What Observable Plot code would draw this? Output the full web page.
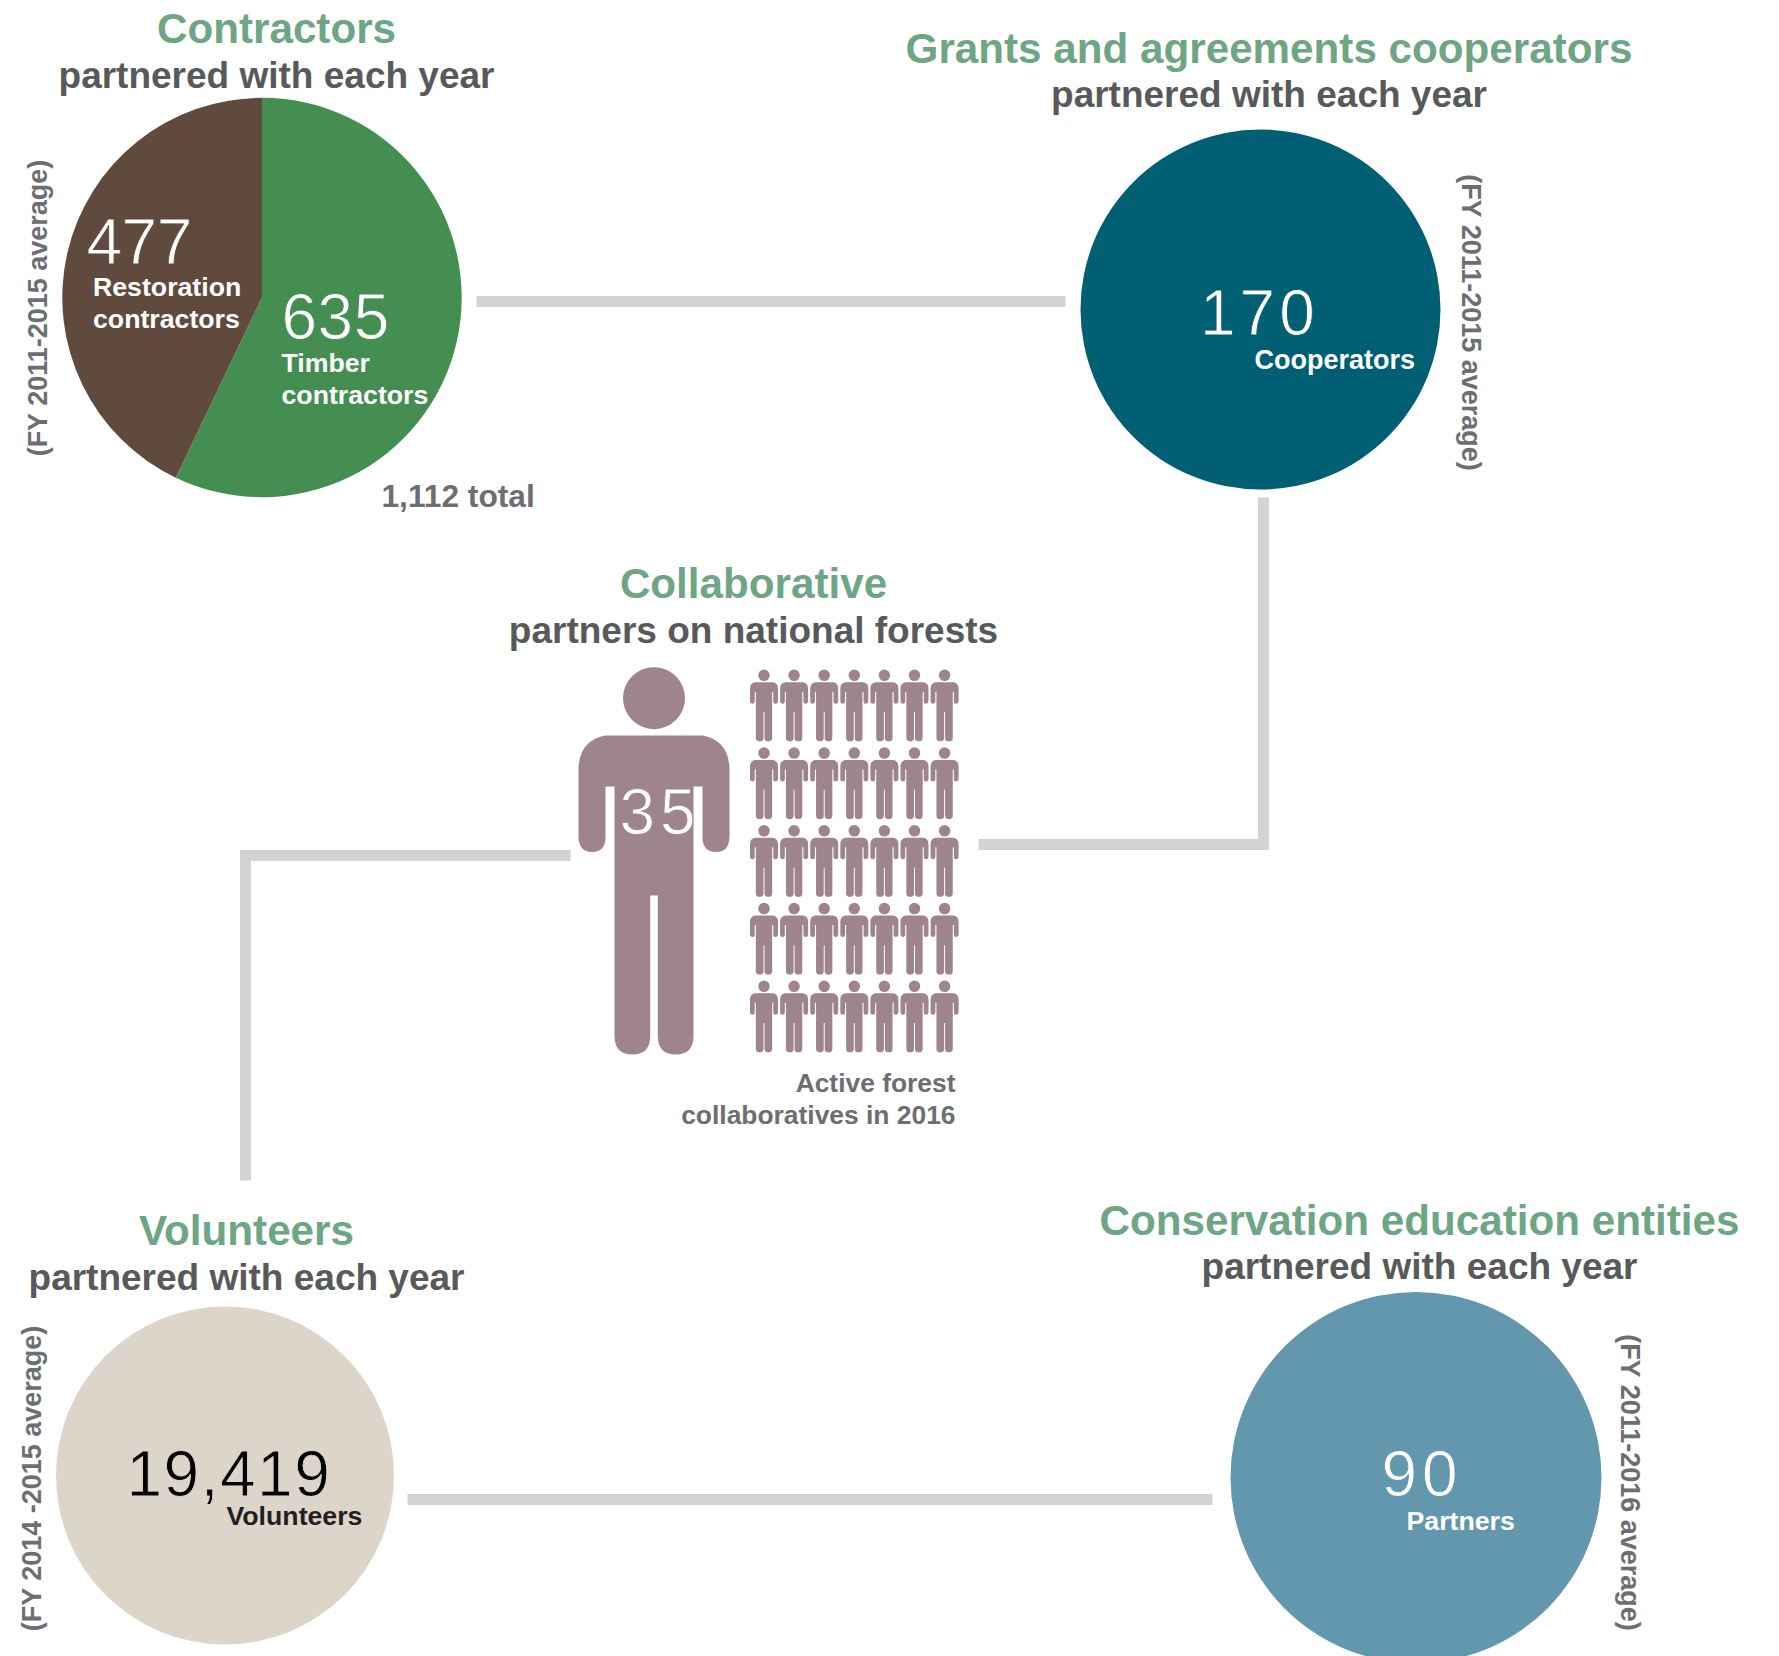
<!DOCTYPE html>
<html>
<head>
<meta charset="utf-8">
<script src="https://cdn.jsdelivr.net/npm/d3@7"></script>
<script src="https://cdn.jsdelivr.net/npm/@observablehq/plot@0.6"></script>
<style>
  html, body { margin: 0; padding: 0; background: #fff; overflow: hidden; }
  svg { display: block; }
</style>
</head>
<body>
<div id="chart"></div>
<script>
// Partnership figures
const contractorLabels = ["Timber", "Restoration"];
const contractorValues = [635, 477];
const contractorTotal = "1,112 total";
const cooperators = "170";
const volunteers = "19,419";
const educationPartners = "90";
const collaboratives = 35;

// Palette
const green = "#458E52", brown = "#604A3E", teal = "#005F72", slate = "#6297AE",
      sand = "#DED5CA", mauve = "#9E858B", heading = "#6EA585", ink = "#58595B",
      note = "#6D6E71", wire = "#D1D3D4";

const sans = "'Liberation Sans', Arial, sans-serif";

// A standing figure, 2 units tall when r = 1; proportions are given in a 387-tall drawing.
const figure = ({ torso, armInner, legGap }) => ({
  draw(ctx, size) {
    const k = Math.sqrt(size / Math.PI) / 193.5;
    const M = (x, y) => ctx.moveTo(x * k, y * k);
    const L = (x, y) => ctx.lineTo(x * k, y * k);
    const Q = (a, b, x, y) => ctx.quadraticCurveTo(a * k, b * k, x * k, y * k);
    const legMid = (torso + legGap) / 2;
    ctx.moveTo(31 * k, -162.8 * k);
    ctx.arc(0, -162.8 * k, 31 * k, 0, 2 * Math.PI);
    ctx.closePath();
    M(-49, -125.5);
    Q(-75, -120, -75.5, -92);
    L(-75.5, -24);
    Q(-75, -9, -62, -9);
    Q(-armInner, -9, -armInner, -24);
    L(-armInner, -74.5);
    L(-torso, -74.5);
    L(-torso, 175);
    Q(-torso, 193.5, -legMid, 193.5);
    Q(-legGap, 193.5, -legGap, 175);
    L(-legGap, 34.5);
    L(legGap, 34.5);
    L(legGap, 175);
    Q(legGap, 193.5, legMid, 193.5);
    Q(torso, 193.5, torso, 175);
    L(torso, -74.5);
    L(armInner, -74.5);
    L(armInner, -24);
    Q(armInner, -9, 62, -9);
    Q(75, -9, 75.5, -24);
    L(75.5, -92);
    Q(75, -120, 49, -125.5);
    ctx.closePath();
  }
});
const person = figure({ torso: 39.5, armInner: 48.5, legGap: 3.8 });
const smallPerson = figure({ torso: 44, armInner: 50, legGap: 2.6 });

// One pie slice as a dot symbol, so the dot's r sets the pie radius.
const wedge = (slice) => ({
  draw(ctx, size) {
    d3.arc().context(ctx)({
      innerRadius: 0,
      outerRadius: Math.sqrt(size / Math.PI),
      startAngle: slice.startAngle,
      endAngle: slice.endAngle
    });
  }
});
const slices = d3.pie().sort(null)(contractorValues);

// Text helpers
const label = (str, x, y, opts = {}) =>
  Plot.text([str], {
    x, y, text: (d) => d,
    lineAnchor: "middle",
    fontFamily: sans,
    fontWeight: 700,
    ...opts
  });
const title = (str, x, y) => label(str, x, y, { fontSize: 42.2, fill: heading, textAnchor: "middle" });
const sub = (str, x, y) => label(str, x, y, { fontSize: 37, fill: ink, textAnchor: "middle" });
// Large numerals: lightly tracked, and slimmed by a hairline in the colour behind them.
const big = (str, x, y, behind, tracking, opts = {}) =>
  label(str, x, y, {
    fontSize: 64, fontWeight: 400, fill: "white", textAnchor: "start",
    stroke: behind, strokeWidth: 0.9, paintOrder: "normal",
    render(index, scales, values, dimensions, context, next) {
      const g = next(index, scales, values, dimensions, context);
      g.style.letterSpacing = `${tracking}px`;
      return g;
    },
    ...opts
  });
const small = (str, x, y, opts = {}) => label(str, x, y, { fontSize: 26.7, fill: "white", textAnchor: "start", ...opts });
const period = (str, x, y, rotate) => label(str, x, y, { fontSize: 27, fill: note, textAnchor: "middle", rotate });

// Connector rules between the five partner groups
const wires = [
  [[476, 301], [1065, 301]],
  [[1263, 497], [1263, 844], [978, 844]],
  [[570, 855], [245, 855], [245, 1180]],
  [[407, 1499], [1212, 1499]]
];

// Pictogram grid of small figures
const grid = d3.range(collaboratives).map((i) => ({
  x: 763.5 + (i % 7) * 30.1,
  y: 705 + Math.floor(i / 7) * 77.75
}));

const chart = Plot.plot({
  width: 1779,
  height: 1656,
  margin: 0,
  x: { domain: [0, 1779], range: [0, 1779], axis: null },
  y: { domain: [0, 1656], range: [0, 1656], axis: null },
  marks: [
    wires.map((w) =>
      Plot.line(w, {
        x: (d) => d[0], y: (d) => d[1],
        stroke: wire, strokeWidth: 11,
        strokeLinecap: "butt", strokeLinejoin: "miter", strokeMiterlimit: 10
      })
    ),

    // Contractors pie
    Plot.dot([0], { x: 261.5, y: 297, r: 199.7, fill: green, symbol: wedge(slices[0]) }),
    Plot.dot([1], { x: 261.5, y: 297, r: 199.7, fill: brown, symbol: wedge(slices[1]) }),
    title("Contractors", 276, 28.5),
    sub("partnered with each year", 276, 76),
    period("(FY 2011-2015 average)", 37.5, 307.5, -90),
    big(String(contractorValues[1]), 86, 243, brown, -0.5),
    small("Restoration", 92.5, 286.5),
    small("contractors", 92.5, 318.5),
    big(String(contractorValues[0]), 281, 318.5, green, 0.5),
    small(contractorLabels[0], 281, 363),
    small("contractors", 281, 395),
    label(contractorTotal, 381, 496, { fontSize: 31.7, fill: note, textAnchor: "start" }),

    // Grants and agreements
    Plot.dot([0], { x: 1260, y: 309, r: 180, fill: teal }),
    title("Grants and agreements cooperators", 1268.5, 48.5),
    sub("partnered with each year", 1268.5, 95),
    period("(FY 2011-2015 average)", 1470.5, 322, 90),
    big(cooperators, 1199.5, 314.5, teal, 4),
    small("Cooperators", 1254, 360, { fontSize: 27 }),

    // Collaboratives
    title("Collaborative", 753, 583.5),
    sub("partners on national forests", 753, 631),
    Plot.dot([0], { x: 653.5, y: 860.5, r: 193.5, fill: mauve, symbol: person }),
    Plot.dot(grid, { x: "x", y: "y", r: 35.85, fill: mauve, symbol: smallPerson }),
    big(String(collaboratives), 659.5, 813, mauve, 5, { textAnchor: "middle" }),
    small("Active forest", 955, 1083, { fill: note, textAnchor: "end", fontSize: 26.4 }),
    small("collaboratives in 2016", 955, 1115, { fill: note, textAnchor: "end", fontSize: 26.4 }),

    // Volunteers
    Plot.dot([0], { x: 224.5, y: 1475, r: 169, fill: sand }),
    title("Volunteers", 246, 1231),
    sub("partnered with each year", 246, 1277.5),
    period("(FY 2014 -2015 average)", 32, 1478, -90),
    big(volunteers, 126, 1475, sand, 1.5, { fill: "#000" }),
    small("Volunteers", 226, 1516, { fill: "#231F20" }),

    // Conservation education
    Plot.dot([0], { x: 1415.5, y: 1477, r: 185.5, fill: slate }),
    title("Conservation education entities", 1419, 1221),
    sub("partnered with each year", 1419, 1267),
    period("(FY 2011-2016 average)", 1629, 1482, 90),
    big(educationPartners, 1381, 1475, slate, 5),
    small("Partners", 1406, 1521)
  ]
});
document.getElementById("chart").append(chart);
</script>
</body>
</html>
